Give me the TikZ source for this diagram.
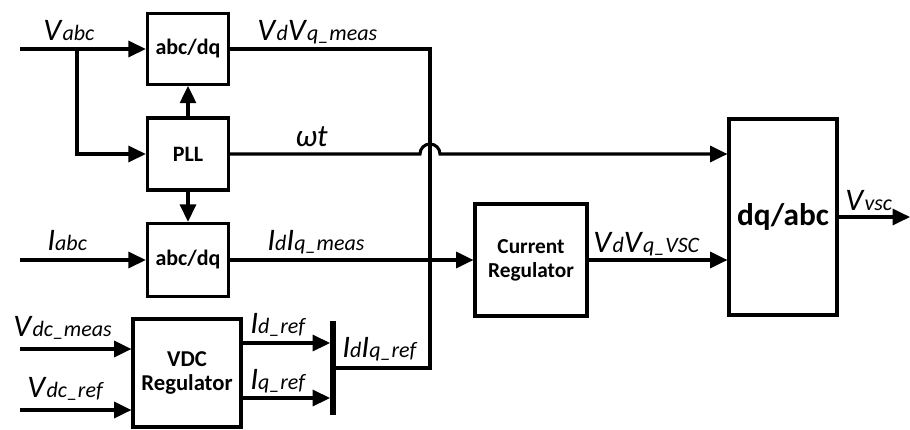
\documentclass[tikz,border=0pt]{standalone}
\usepackage{fontspec}
\setmainfont{Carlito}
\usetikzlibrary{positioning,arrows.meta,calc}
\newcommand{\sig}[2]{\textit{#1}{\fontsize{16.5}{18}\selectfont\textit{#2}}}

\begin{document}
\begin{tikzpicture}[x=0.75pt,y=-0.75pt,
    blk/.style={rectangle,draw,line width=2.3pt,inner sep=0pt,
                font=\fontsize{16.5}{18}\selectfont\bfseries,align=center},
    arr/.style={-{Triangle[length=13pt,width=12pt]},line width=2.3pt},
    wire/.style={line width=2.3pt},
    lbl/.style={font=\fontsize{23.5}{25}\selectfont,inner sep=0pt,anchor=base west}]
\useasboundingbox (0,0) rectangle (910,429);
% blocks
\node[blk,minimum width=61pt,minimum height=53pt] (abcdq1) at (188,49)  {abc/dq};
\node[blk,minimum width=61pt,minimum height=54pt] (pll)    at (188,154) {PLL};
\node[blk,minimum width=61pt,minimum height=55pt] (abcdq2) at (188,260) {abc/dq};
\node[blk,minimum width=81pt,minimum height=81pt,font=\fontsize{17}{18}\selectfont\bfseries] (vdc) at (187,373) {VDC\\Regulator};
\node[blk,minimum width=84pt,minimum height=84pt,font=\fontsize{16}{18}\selectfont\bfseries] (curreg) at (531,260) {Current\\Regulator};
\node[blk,minimum width=81pt,minimum height=147pt,font=\fontsize{23.5}{25}\selectfont\bfseries] (dqabc) at (783,217) {dq/abc};
\node[fill,inner sep=0pt,minimum width=4pt,minimum height=71pt] (bar) at (333,368) {};
% free ends
\coordinate (vabcin) at (20,49);
\coordinate (vbr)    at (77,49);
\coordinate (iabcin) at (20,260);
\coordinate (vdcmin) at (20,349);
\coordinate (vdcrin) at (20,410);
\coordinate (tap)    at (430,0);
\coordinate (vout)   at (910,217);
% signals
\draw[arr](vabcin)--(abcdq1.west);
\draw[arr](vbr)|-(pll.west);
\draw[arr](pll.north)--(abcdq1.south);
\draw[arr](pll.south)--(abcdq2.north);
\draw[arr](iabcin)--(abcdq2.west);
\draw[arr](vdcmin)--(vdcmin-|vdc.west);
\draw[arr](vdcrin)--(vdcrin-|vdc.west);
\draw[arr]([yshift=22.5pt]vdc.east)--([yshift=22.5pt]vdc.east-|bar.west);
\draw[arr]([yshift=-18.75pt]vdc.east)--([yshift=-18.75pt]vdc.east-|bar.west);
\draw[wire](abcdq1.east)-|(tap|-bar.east)--(bar.east);
\draw[arr](pll.east)--($(pll.east-|tap)+(-10,0)$)
    arc[start angle=180,end angle=0,radius=7.5pt]--(pll.east-|dqabc.west);
\draw[arr](abcdq2.east)--(curreg.west);
\draw[arr](curreg.east)--(curreg.east-|dqabc.west);
\draw[arr](dqabc.east)--(vout);
% labels
\node[lbl] (lvabc)  at (43,40)   {\sig{V}{abc}};
\node[lbl] (lvmeas) at (257,40)  {\sig{V}{d}\sig{V}{q\_meas}};
\node[lbl] (lwt)    at (295,146) {\textit{ωt}};
\node[lbl] (liabc)  at (47,250)  {\sig{I}{abc}};
\node[lbl] (limeas) at (267,250) {\sig{I}{d}\sig{I}{q\_meas}};
\node[lbl] (lvdcm)  at (13,336)  {\sig{V}{dc\_meas}};
\node[lbl] (lvdcr)  at (27,397)  {\sig{V}{dc\_ref}};
\node[lbl] (lidr)   at (250,333) {\sig{I}{d\_ref}};
\node[lbl] (liqr)   at (250,389) {\sig{I}{q\_ref}};
\node[lbl] (liref)  at (342,357) {\sig{I}{d}\sig{I}{q\_ref}};
\node[lbl] (lvvsc)  at (593,252) {\sig{V}{d}\sig{V}{q\_VSC}};
\node[lbl] (lvout)  at (845,210) {\sig{V}{vsc}};
\end{tikzpicture}
\end{document}
